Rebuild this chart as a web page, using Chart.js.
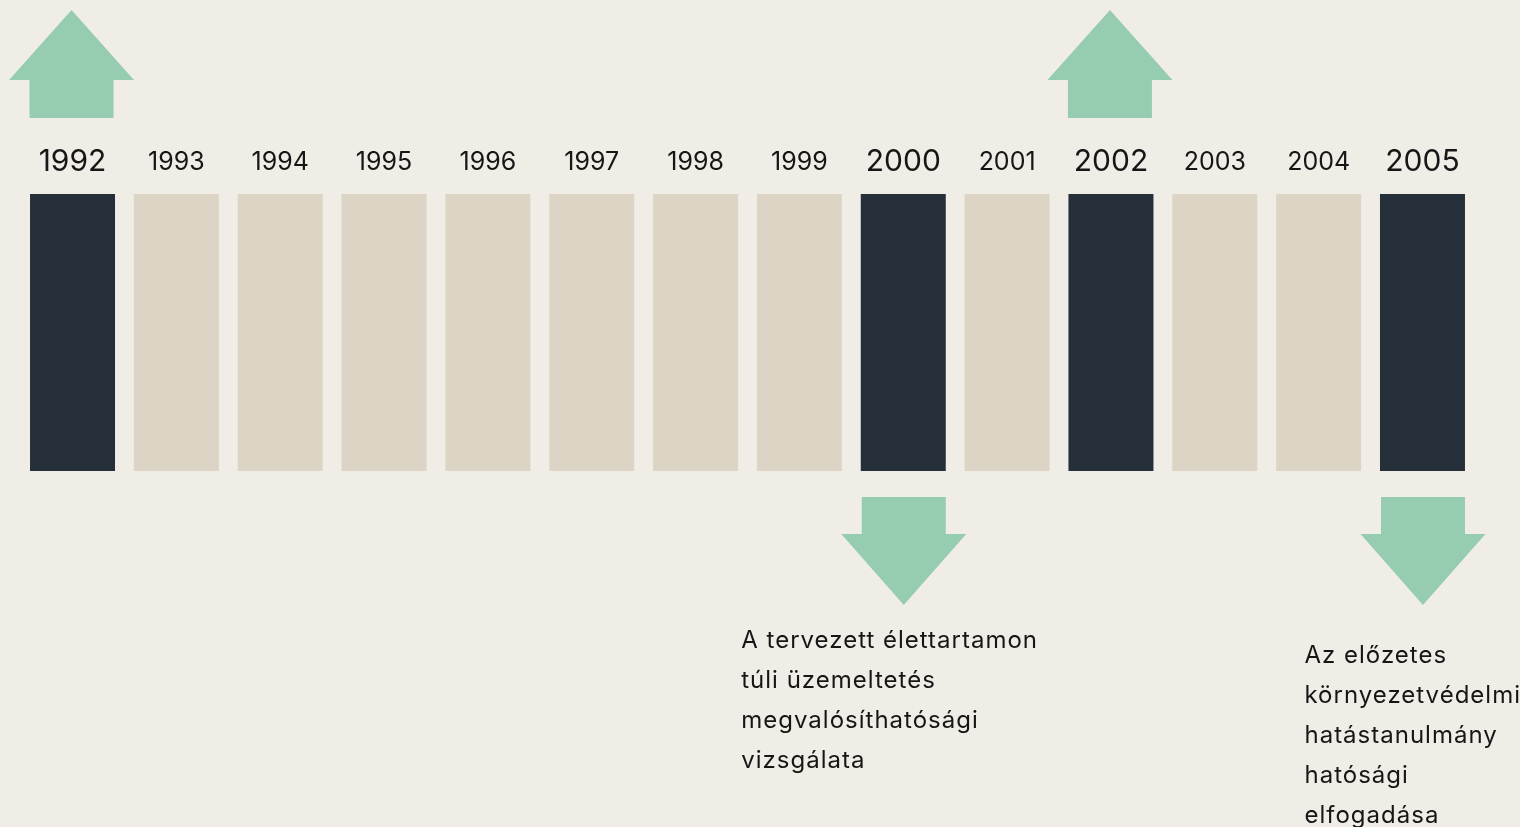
<!DOCTYPE html>
<html>
<head>
<meta charset="utf-8">
<script src="https://cdn.jsdelivr.net/npm/chart.js@4.4.1/dist/chart.umd.min.js"></script>
<style>
  html, body { margin: 0; padding: 0; background: #f0ede6; }
  canvas { display: block; }
</style>
</head>
<body>
<canvas id="c" width="1520" height="827"></canvas>
<script>
// ---- data ----
const years = ['1992','1993','1994','1995','1996','1997','1998','1999','2000','2001','2002','2003','2004','2005'];
const spanValues = [1,1,1,1,1,1,1,1,1,1,1,1,1,1];
const milestoneYears = ['1992','2000','2002','2005'];
const arrowUpYears = ['1992','2002'];
const arrowDownYears = ['2000','2005'];
const notes2000 = ['A tervezett élettartamon', 'túli üzemeltetés', 'megvalósíthatósági', 'vizsgálata'];
const notes2005 = ['Az előzetes', 'környezetvédelmi', 'hatástanulmány', 'hatósági', 'elfogadása'];

// ---- style ----
const DARK = '#252f3a';
const BEIGE = '#dcd5c5';
const GREEN = '#96cdb0';
const TEXT = '#161616';
const FONT = 'Inter, "Open Sans", sans-serif';
const NOTE_FONT = 'Inter, "Open Sans", sans-serif';

const isMilestone = y => milestoneYears.includes(y);

const arrowPlugin = {
  id: 'arrows',
  afterDatasetsDraw(chart) {
    const ctx = chart.ctx;
    const meta = chart.getDatasetMeta(0);
    const halfHead = 62.5, halfShaft = 42;
    function upArrow(cx) {
      ctx.beginPath();
      ctx.moveTo(cx, 10);
      ctx.lineTo(cx + halfHead, 80);
      ctx.lineTo(cx + halfShaft, 80);
      ctx.lineTo(cx + halfShaft, 118);
      ctx.lineTo(cx - halfShaft, 118);
      ctx.lineTo(cx - halfShaft, 80);
      ctx.lineTo(cx - halfHead, 80);
      ctx.closePath();
      ctx.fill();
    }
    function downArrow(cx) {
      ctx.beginPath();
      ctx.moveTo(cx - halfShaft, 497);
      ctx.lineTo(cx + halfShaft, 497);
      ctx.lineTo(cx + halfShaft, 534);
      ctx.lineTo(cx + halfHead, 534);
      ctx.lineTo(cx, 605);
      ctx.lineTo(cx - halfHead, 534);
      ctx.lineTo(cx - halfShaft, 534);
      ctx.closePath();
      ctx.fill();
    }
    ctx.save();
    ctx.fillStyle = GREEN;
    arrowUpYears.forEach(y => upArrow(meta.data[years.indexOf(y)].x - 1));
    arrowDownYears.forEach(y => downArrow(meta.data[years.indexOf(y)].x + 0.5));
    ctx.fillStyle = TEXT;
    ctx.font = '24px ' + NOTE_FONT;
    try { ctx.letterSpacing = '1px'; } catch (e) {}
    ctx.textBaseline = 'middle';
    ctx.textAlign = 'left';
    const x2000 = meta.data[years.indexOf('2000')].x - 162;
    notes2000.forEach((t, i) => ctx.fillText(t, x2000, 641 + i * 40));
    const x2005 = meta.data[years.indexOf('2005')].x - 118;
    notes2005.forEach((t, i) => ctx.fillText(t, x2005, 656 + i * 40));
    ctx.restore();
  }
};

new Chart(document.getElementById('c'), {
  type: 'bar',
  data: {
    labels: years,
    datasets: [{
      data: spanValues,
      backgroundColor: years.map(y => isMilestone(y) ? DARK : BEIGE),
      borderWidth: 0,
      categoryPercentage: 1,
      barPercentage: 0.8185
    }]
  },
  options: {
    responsive: false,
    animation: false,
    layout: { padding: { left: 20.6, right: 45.6, top: 0, bottom: 356 } },
    plugins: { legend: { display: false }, tooltip: { enabled: false } },
    scales: {
      x: {
        position: 'top',
        grid: { display: false, drawTicks: false },
        border: { display: false },
        afterFit(scale) { scale.height = 194; },
        ticks: {
          color: TEXT,
          padding: 17,
          maxRotation: 0,
          autoSkip: false,
          font: (c) => {
            const lbl = years[c.index];
            return { family: FONT, size: isMilestone(lbl) ? 30 : 25, weight: 400, lineHeight: '30px' };
          }
        }
      },
      y: { display: false, min: 0, max: 1 }
    }
  },
  plugins: [arrowPlugin]
});
</script>
</body>
</html>
